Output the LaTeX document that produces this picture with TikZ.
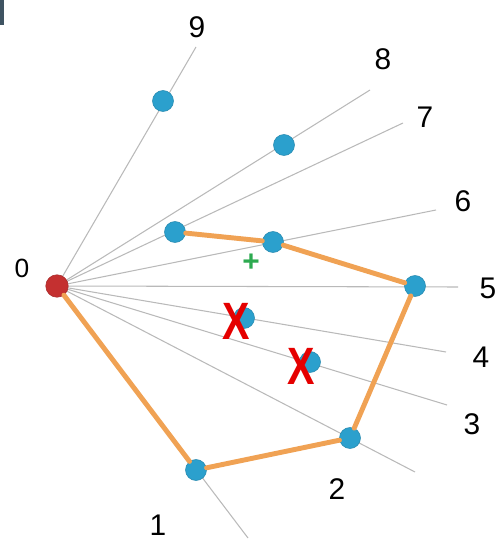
\documentclass[tikz,border=0pt]{standalone}
\usepackage{xcolor}
\usepackage{fontspec}
\setmainfont{Liberation Sans}
\usepackage{tikz}
\usetikzlibrary{positioning, calc}

\definecolor{dotblue}{RGB}{43,160,205}
\definecolor{dotred}{RGB}{196,48,48}
\definecolor{hullorange}{RGB}{240,162,84}
\definecolor{slate}{RGB}{63,84,98}
\definecolor{plusgreen}{RGB}{45,170,80}

\begin{document}
\begin{tikzpicture}[x=0.02cm, y=-0.02cm,
    ray/.style={gray!55, line width=0.6pt},
    pt/.style={circle, fill=dotblue, draw=dotblue!85!black, line width=0.3pt, minimum size=0.42cm, inner sep=0pt},
    hull/.style={hullorange, line width=2.8pt, line cap=round},
    cross/.style={text=red!90!black, font=\fontsize{26}{28}\selectfont\bfseries, inner sep=0pt, xscale=0.9, yscale=1.15},
    lbl/.style={font=\fontsize{17}{20}\selectfont, inner sep=0pt}]
    \useasboundingbox (0,0) rectangle (499,543);
    \fill[slate] (0,0) rectangle (4,25);

    % Rayos desde el punto 0
    \coordinate (O) at (57,286);
    \coordinate (r1) at (248,538);
    \coordinate (r2) at (415,472);
    \coordinate (r3) at (447,405);
    \coordinate (r4) at (446,352);
    \coordinate (r5) at (458,287);
    \coordinate (r6) at (436,210);
    \coordinate (r7) at (403,123);
    \coordinate (r8) at (370,90);
    \coordinate (r9) at (196,47);
    \draw[ray] (O) -- (r1);
    \draw[ray] (O) -- (r2);
    \draw[ray] (O) -- (r3);
    \draw[ray] (O) -- (r4);
    \draw[ray] (O) -- (r5);
    \draw[ray] (O) -- (r6);
    \draw[ray] (O) -- (r7);
    \draw[ray] (O) -- (r8);
    \draw[ray] (O) -- (r9);

    % Puntos
    \node[pt] (p1) at (196,470) {};
    \node[pt] (p2) at (350,438) {};
    \node[pt] (p3) at (310,362) {};
    \node[pt] (p4) at (244,318) {};
    \node[pt] (p5) at (415,286) {};
    \node[pt] (p6) at (273,242) {};
    \node[pt] (p7) at (175,232) {};
    \node[pt] (p8) at (284,145) {};
    \node[pt] (p9) at (163,101) {};
    \node[circle, fill=dotred, draw=dotred!85!black, line width=0.3pt, minimum size=0.45cm, inner sep=0pt] (p0) at (O) {};

    % Envolvente
    \draw[hull] (p0) -- (p1);
    \draw[hull] (p1) -- (p2);
    \draw[hull] (p2) -- (p5);
    \draw[hull] (p5) -- (p6);
    \draw[hull] (p6) -- (p7);

    % Puntos descartados
    \node[cross] (x4) at (236,321) {X};
    \node[cross] (x3) at (301,366) {X};
    \node[text=plusgreen, font=\fontsize{17}{18}\selectfont\bfseries, inner sep=0pt] (plus) at (251,263) {+};

    % Etiquetas
    \node[lbl, font=\fontsize{15}{18}\selectfont] (l0) at (22,268) {0};
    \node[lbl] (l1) at (158,525) {1};
    \node[lbl] (l2) at (337,489) {2};
    \node[lbl] (l3) at (472,424) {3};
    \node[lbl] (l4) at (481,357) {4};
    \node[lbl] (l5) at (488,288) {5};
    \node[lbl] (l6) at (463,201) {6};
    \node[lbl] (l7) at (425,117) {7};
    \node[lbl] (l8) at (383,59) {8};
    \node[lbl] (l9) at (197,27) {9};
\end{tikzpicture}
\end{document}
